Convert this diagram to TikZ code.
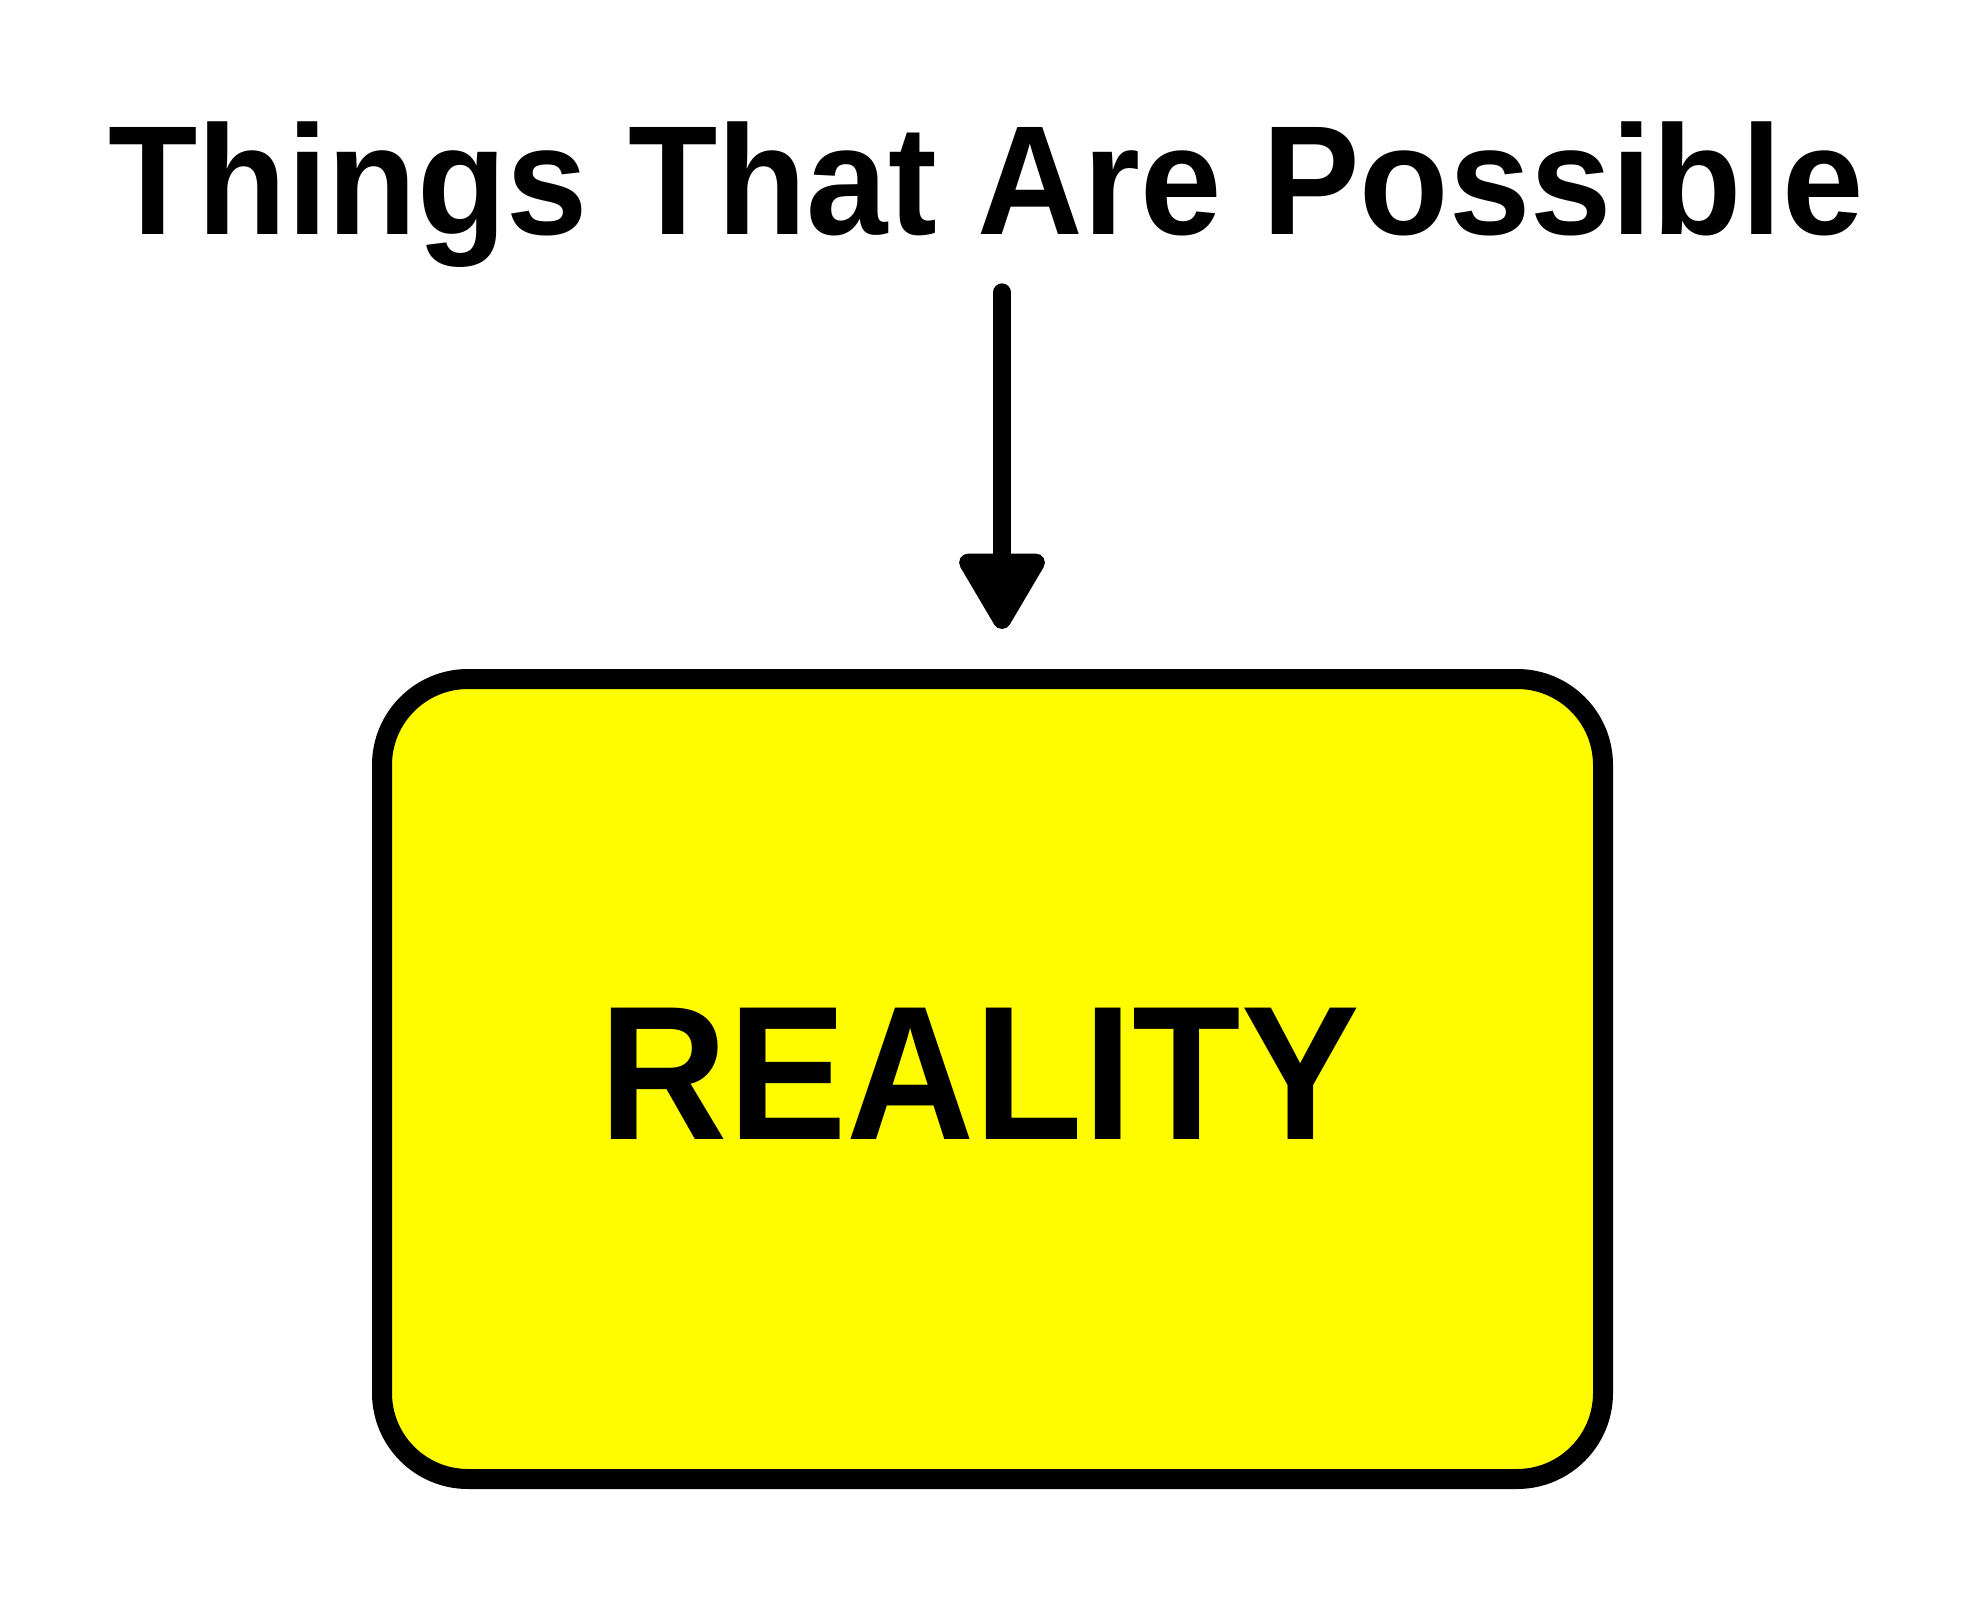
\documentclass[tikz,border=0pt]{standalone}
\usepackage{fontspec}
\usetikzlibrary{arrows.meta}
\newfontfamily\diagramfont{Liberation Sans}[FakeStretch=0.94]
\newfontfamily\statefont{Liberation Sans}[FakeStretch=0.93]
\definecolor{realityyellow}{RGB}{255,252,0}

\begin{document}
\begin{tikzpicture}[x=0.5pt,y=-0.5pt,
    heading/.style={inner sep=0pt, anchor=base, font=\diagramfont\bfseries\fontsize{77.8}{80}\selectfont},
    statebox/.style={draw, line width=10pt, fill=realityyellow, rounded corners=43pt,
      minimum width=610.5pt, minimum height=400pt, inner sep=0pt},
    statelabel/.style={inner sep=0pt, font=\statefont\bfseries\fontsize{95.5}{98}\selectfont},
    flow/.style={line width=9pt, line cap=round,
      -{Triangle[width=47pt, length=42.5pt, round]}}]
      \useasboundingbox (0,0) rectangle (1970,1599);
      \node[heading] (possible) at (986,235) {Things That Are Possible};
      \node[statebox, label={[statelabel, xshift=-6.4pt, yshift=2.5pt]center:REALITY}] (reality) at (992.5,1079) {};
      \draw[flow, shorten <=12pt, shorten >=20pt] ([xshift=8pt]possible.south) -- ([xshift=4.75pt]reality.north);
    \end{tikzpicture}
\end{document}
